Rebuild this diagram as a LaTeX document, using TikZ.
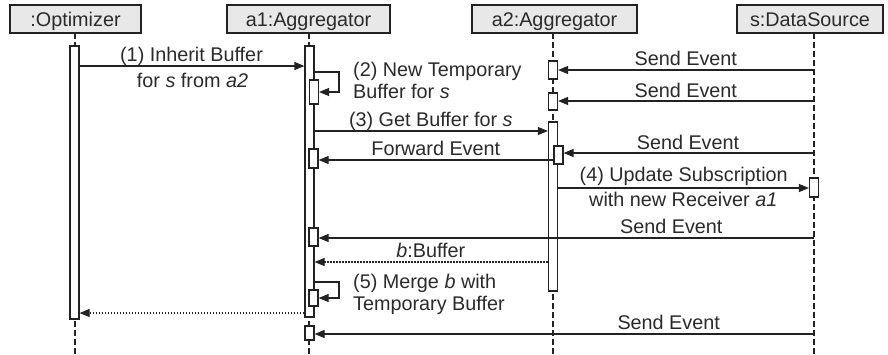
\documentclass[tikz,border=0pt]{standalone}
\usepackage{fontspec}
\setmainfont{Liberation Sans}
\usetikzlibrary{arrows.meta}
\definecolor{headfill}{HTML}{E8E8E8}
\definecolor{ink}{HTML}{222222}
\definecolor{txt}{HTML}{2A2A2A}
\begin{document}
\begin{tikzpicture}[x=1pt,y=-1pt, font=\fontsize{19.8}{23}\selectfont,
  head/.style={draw=ink, fill=headfill, line width=1.2pt, minimum height=28pt, inner sep=0pt, text height=15pt, text depth=0pt, text=txt},
  life/.style={draw=ink, line width=1.2pt, dash pattern=on 6pt off 3pt},
  act/.style={draw=ink, fill=white, line width=1.2pt, minimum width=9pt, inner sep=0pt},
  msg/.style={draw=ink, line width=1.2pt, -{Triangle[length=10pt,width=8pt]}},
  ret/.style={msg, dash pattern=on 1.5pt off 1.5pt},
  lbl/.style={anchor=base, inner sep=0pt, text=txt},
  lbll/.style={anchor=base west, inner sep=0pt, text=txt},
]
\useasboundingbox (0,0) rectangle (888,354);
% headers
\node[head, minimum width=131pt] (hO) at (75.5,19) {:Optimizer};
\node[head, minimum width=163pt] (hA1) at (308.5,19) {a1:Aggregator};
\node[head, minimum width=165pt] (hA2) at (554.5,19) {a2:Aggregator};
\node[head, minimum width=146pt] (hS) at (810,19) {s:DataSource};
% lifelines
\coordinate (tO) at (75,33);  \coordinate (bO) at (75,354);
\coordinate (tA1) at (309,33); \coordinate (bA1) at (309,354);
\coordinate (tA2) at (553,33); \coordinate (bA2) at (553,354);
\coordinate (tS) at (814,33); \coordinate (bS) at (814,354);
\draw[life] (tO) -- (bO);
\draw[life] (tA1) -- (bA1);
\draw[life] (tA2) -- (bA2);
\draw[life] (tS) -- (bS);
% activations
\node[act, minimum height=273pt] (oA) at (74.5,182.5) {};
\node[act, minimum height=271pt] (a1A) at (309.5,181.5) {};
\node[act, minimum height=24pt] (n2) at (314,92) {};
\node[act, minimum height=19pt] (a1f) at (313.5,158.5) {};
\node[act, minimum height=18pt] (a1s) at (313.5,237) {};
\node[act, minimum height=16pt] (n5) at (313.5,298) {};
\node[act, minimum height=14pt] (a1z) at (309.5,333) {};
\node[act, minimum height=18pt] (a2s1) at (553,70) {};
\node[act, minimum height=17pt] (a2s2) at (553,101.5) {};
\node[act, minimum height=169pt] (a2A) at (553,206.5) {};
\node[act, minimum height=18pt] (a2n) at (558.5,155) {};
\node[act, minimum height=19pt] (sA) at (814,187.5) {};
% messages
\draw[msg] (oA.east |- 0,66) -- (a1A.west |- 0,66);
\node[lbl] (l1a) at (191.5,61.7) {(1) Inherit Buffer};
\node[lbl] (l1b) at (192.5,87.3) {for \textit{s} from \textit{a2}};

\draw[msg] (a1A.east |- 0,72) -- (339,72) -- (339,92) -- (n2.east |- 0,92);
\node[lbll] (l2a) at (353,76) {(2) New Temporary};
\node[lbll] (l2b) at (353,98.3) {Buffer for \textit{s}};

\draw[msg] (tS |- 0,70) -- (a2s1.east |- 0,70);
\node[lbl] (se1) at (685.8,65.7) {Send Event};
\draw[msg] (tS |- 0,101) -- (a2s2.east |- 0,101);
\node[lbl] (se2) at (685.8,97.3) {Send Event};

\draw[msg] (a1A.east |- 0,131) -- (a2A.west |- 0,131);
\node[lbl] (l3) at (430.8,126.7) {(3) Get Buffer for \textit{s}};

\draw[msg] (tS |- 0,153) -- (a2n.east |- 0,153);
\node[lbl] (se3) at (688,149.3) {Send Event};

\draw[msg] (a2n.west |- 0,160) -- (a1f.east |- 0,160);
\node[lbl] (lfw) at (435.8,155.7) {Forward Event};

\draw[msg] (a2A.east |- 0,188) -- (sA.west |- 0,188);
\node[lbl] (l4a) at (683.7,181.7) {(4) Update Subscription};
\node[lbl] (l4b) at (683.3,206.7) {with new Receiver \textit{a1}};

\draw[msg] (tS |- 0,238) -- (a1s.east |- 0,238);
\node[lbl] (se4) at (671.3,233.3) {Send Event};

\draw[ret] (a2A.west |- 0,262) -- (a1A.east |- 0,262);
\node[lbl] (lb) at (430.8,257.3) {\textit{b}:Buffer};

\draw[msg] (a1A.east |- 0,282) -- (339,282) -- (339,298) -- (n5.east |- 0,298);
\node[lbll] (l5a) at (353,288.3) {(5) Merge \textit{b} with};
\node[lbll] (l5b) at (353,310) {Temporary Buffer};

\draw[ret] (a1A.west |- 0,313) -- (oA.east |- 0,313);

\draw[msg] (tS |- 0,334) -- (a1z.east |- 0,334);
\node[lbl] (se5) at (668.7,329.3) {Send Event};
\end{tikzpicture}
\end{document}
